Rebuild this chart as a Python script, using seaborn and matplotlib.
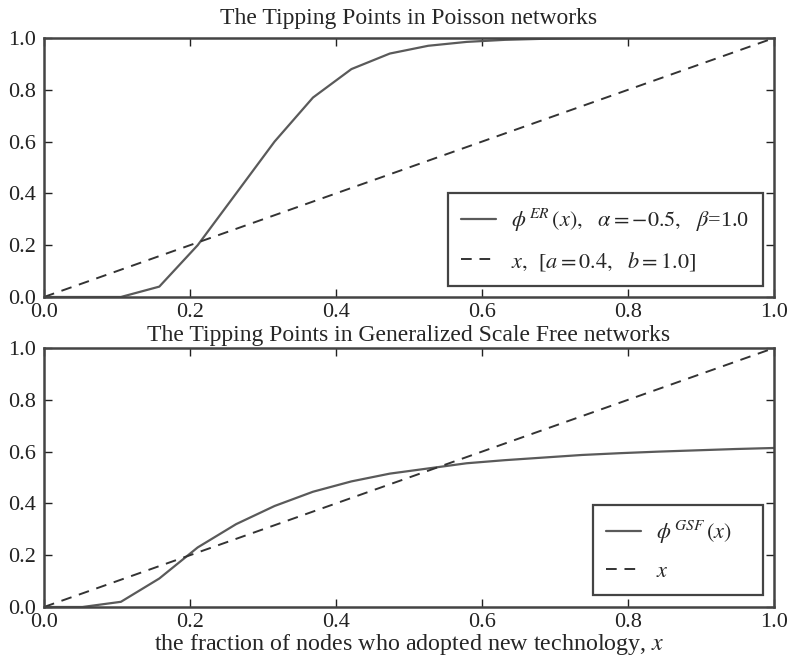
"""
Tipping points in Poisson and generalized scale-free networks.
"""

import matplotlib
matplotlib.use("Agg")
import matplotlib.pyplot as plt
import seaborn as sns
import pandas as pd

# sample points on the x axis (20 evenly spaced values)
x_vals = [0.0, 0.0526, 0.1053, 0.1579, 0.2105, 0.2632, 0.3158, 0.3684, 0.4211, 0.4737,
          0.5263, 0.5789, 0.6316, 0.6842, 0.7368, 0.7895, 0.8421, 0.8947, 0.9474, 1.0]

# phi^ER(x), alpha=-0.5, beta=1.0
phi_er = [0.0, 0.0, 0.0, 0.04, 0.20, 0.40, 0.60, 0.77, 0.88, 0.94,
          0.97, 0.985, 0.993, 0.997, 0.999, 1.0, 1.0, 1.0, 1.0, 1.0]

# phi^GSF(x)
phi_gsf = [0.0, 0.0, 0.02, 0.11, 0.23, 0.32, 0.39, 0.445, 0.485, 0.515,
           0.535, 0.555, 0.567, 0.577, 0.587, 0.594, 0.600, 0.605, 0.610, 0.614]

# reference line x
line_x = [0.0, 1.0]

tick_vals = [0.0, 0.2, 0.4, 0.6, 0.8, 1.0]
tick_labels = ["0.0", "0.2", "0.4", "0.6", "0.8", "1.0"]

sns.set_style("ticks")
plt.rcParams['font.family'] = ['Liberation Serif', 'DejaVu Serif']
plt.rcParams['mathtext.fontset'] = 'stix'

df = pd.DataFrame({"x": x_vals, "er": phi_er, "gsf": phi_gsf})
ref = pd.DataFrame({"x": line_x, "y": line_x})

fig = plt.figure(figsize=(7.89, 6.61), dpi=100)
ax1 = fig.add_axes([0.0558, 0.5507, 0.9252, 0.3918])
ax2 = fig.add_axes([0.0558, 0.0817, 0.9252, 0.3918])

solid_color = "#5a5a5a"
dash_color = "#333333"

sns.lineplot(data=df, x="x", y="er", ax=ax1, color=solid_color, linewidth=1.6,
             label=r"$\phi^{\,ER}\,(x),\enspace\;\alpha=-0.5,\enspace\;\beta$=1.0 ")
sns.lineplot(data=ref, x="x", y="y", ax=ax1, color=dash_color, linewidth=1.4,
             dashes=(5.5, 4), label=r"$x,\enspace$[$a=0.4,\enspace\;b=1.0$]")

sns.lineplot(data=df, x="x", y="gsf", ax=ax2, color=solid_color, linewidth=1.6,
             label=r"$\phi^{\,GSF}\,(x)$" + "    ")
sns.lineplot(data=ref, x="x", y="y", ax=ax2, color=dash_color, linewidth=1.4,
             dashes=(5.5, 4), label=r"$x$")

ax1.set_title("The Tipping Points in Poisson networks", fontsize=17, pad=10)
ax2.set_title("The Tipping Points in Generalized Scale Free networks", fontsize=17, pad=5)
ax2.set_xlabel("the fraction of nodes who adopted new technology, $x$", fontsize=17.3, labelpad=0)
ax1.set_xlabel("")

anchors = {ax1: (0.985, 0.042), ax2: (0.985, 0.046)}
for ax in (ax1, ax2):
    ax.set_xlim(0, 1)
    ax.set_ylim(0, 1)
    ax.set_ylabel("")
    ax.set_xticks(tick_vals)
    ax.set_yticks(tick_vals)
    ax.set_xticklabels(tick_labels)
    ax.set_yticklabels(tick_labels)
    ax.tick_params(direction="in", top=True, right=True, length=6, width=1,
                   labelsize=16, colors="#222222")
    ax.tick_params(axis="x", pad=4)
    ax.tick_params(axis="y", pad=5.5)
    for s in ax.spines.values():
        s.set_linewidth(1.8)
        s.set_color("#444444")
    leg = ax.legend(loc="lower right", bbox_to_anchor=anchors[ax], fontsize=16,
                    frameon=True, fancybox=False, borderaxespad=0,
                    handlelength=1.6, handletextpad=0.65, borderpad=0.6,
                    labelspacing=0.7)
    leg.get_frame().set_edgecolor("#444444")
    leg.get_frame().set_linewidth(1.6)
    leg.get_frame().set_alpha(1)

fig.savefig("out.png", dpi=100)
